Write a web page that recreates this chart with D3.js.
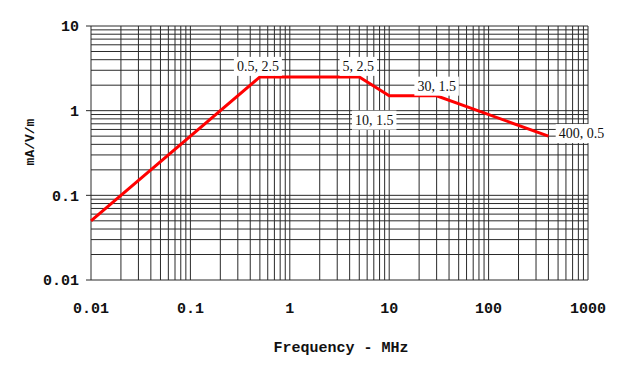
<!DOCTYPE html>
<html>
<head>
<meta charset="utf-8">
<script src="https://cdn.jsdelivr.net/npm/d3@7"></script>
<style>
html,body{margin:0;padding:0;background:#fff;}
svg{display:block;}
</style>
</head>
<body>
<svg id="chart" width="633" height="366"></svg>
<script>
// Data
const freqMHz = [0.01, 0.5, 5, 10, 30, 400];
const fieldMA = [0.05, 2.5, 2.5, 1.5, 1.5, 0.5];
const pointLabels = ["", "0.5, 2.5", "5, 2.5", "10, 1.5", "30, 1.5", "400, 0.5"];
const xTickValues = [0.01, 0.1, 1, 10, 100, 1000];
const xTickLabels = ["0.01", "0.1", "1", "10", "100", "1000"];
const yTickValues = [0.01, 0.1, 1, 10];
const yTickLabels = ["0.01", "0.1", "1", "10"];
// label offsets relative to point (dx, dy) in px
const labelOffsets = [[0,0],[-2,-11],[-1,-11],[-15,24],[0,-10],[33,-3]];

const svg = d3.select("#chart");
const m = {left: 91, top: 26, right: 588, bottom: 280};
const x = d3.scaleLog().domain([0.01, 1000]).range([m.left, m.right]);
const y = d3.scaleLog().domain([0.01, 10]).range([m.bottom, m.top]);

// minor grid values
const xGrid = [], yGrid = [];
for (let e = -2; e < 3; e++) for (let k = 1; k <= 9; k++) xGrid.push(k * Math.pow(10, e));
xGrid.push(1000);
for (let e = -2; e < 1; e++) for (let k = 1; k <= 9; k++) yGrid.push(k * Math.pow(10, e));
yGrid.push(10);

const g = svg.append("g");
g.selectAll("line.vx").data(xGrid).enter().append("line")
  .attr("x1", d => x(d)).attr("x2", d => x(d))
  .attr("y1", m.top).attr("y2", m.bottom)
  .attr("stroke", "#2a2a2a").attr("stroke-width", 1);
g.selectAll("line.hy").data(yGrid).enter().append("line")
  .attr("x1", m.left).attr("x2", m.right)
  .attr("y1", d => y(d)).attr("y2", d => y(d))
  .attr("stroke", "#2a2a2a").attr("stroke-width", 1);

// y decade ticks to the left
g.selectAll("line.yt").data(yTickValues).enter().append("line")
  .attr("x1", m.left - 5).attr("x2", m.left)
  .attr("y1", d => y(d)).attr("y2", d => y(d))
  .attr("stroke", "#2a2a2a").attr("stroke-width", 1);

const tickFont = "'Liberation Mono','DejaVu Sans Mono',monospace";
svg.selectAll("text.yl").data(yTickValues).enter().append("text")
  .attr("x", m.left - 12).attr("y", d => y(d))
  .attr("dy", "0.35em").attr("text-anchor", "end")
  .attr("font-family", tickFont).attr("font-weight", "bold").attr("font-size", 15)
  .attr("fill", "#111")
  .text((d, i) => yTickLabels[i]);
svg.selectAll("text.xl").data(xTickValues).enter().append("text")
  .attr("x", d => x(d)).attr("y", 308)
  .attr("dy", "0.35em").attr("text-anchor", "middle")
  .attr("font-family", tickFont).attr("font-weight", "bold").attr("font-size", 15)
  .attr("fill", "#111")
  .text((d, i) => xTickLabels[i]);

svg.append("text")
  .attr("x", 341).attr("y", 347).attr("dy", "0.35em")
  .attr("text-anchor", "middle")
  .attr("font-family", tickFont).attr("font-weight", "bold").attr("font-size", 15)
  .attr("fill", "#111").text("Frequency - MHz");

svg.append("text")
  .attr("transform", "translate(29,142) rotate(-90)")
  .attr("dy", "0.35em").attr("text-anchor", "middle")
  .attr("font-family", tickFont).attr("font-weight", "bold").attr("font-size", 13)
  .attr("fill", "#111").text("mA/V/m");

// data line
const pts = freqMHz.map((f, i) => [f, fieldMA[i]]);
svg.append("path")
  .datum(pts)
  .attr("d", d3.line().x(d => x(d[0])).y(d => y(d[1])))
  .attr("fill", "none").attr("stroke", "#ff0000").attr("stroke-width", 3);

// labels with white background
const lab = svg.append("g");
pts.forEach((p, i) => {
  if (!pointLabels[i]) return;
  const cx = x(p[0]) + labelOffsets[i][0];
  const cy = y(p[1]) + labelOffsets[i][1];
  const t = lab.append("text")
    .attr("x", cx).attr("y", cy).attr("dy", "0.35em")
    .attr("text-anchor", "middle")
    .attr("font-family", "'Liberation Serif','Times New Roman',serif")
    .attr("font-size", 14).attr("fill", "#111")
    .text(pointLabels[i]);
  const bb = t.node().getBBox();
  lab.insert("rect", "text")
    .attr("x", bb.x - 3).attr("y", bb.y - 2)
    .attr("width", bb.width + 6).attr("height", bb.height + 4)
    .attr("fill", "#fff");
});
</script>
</body>
</html>
